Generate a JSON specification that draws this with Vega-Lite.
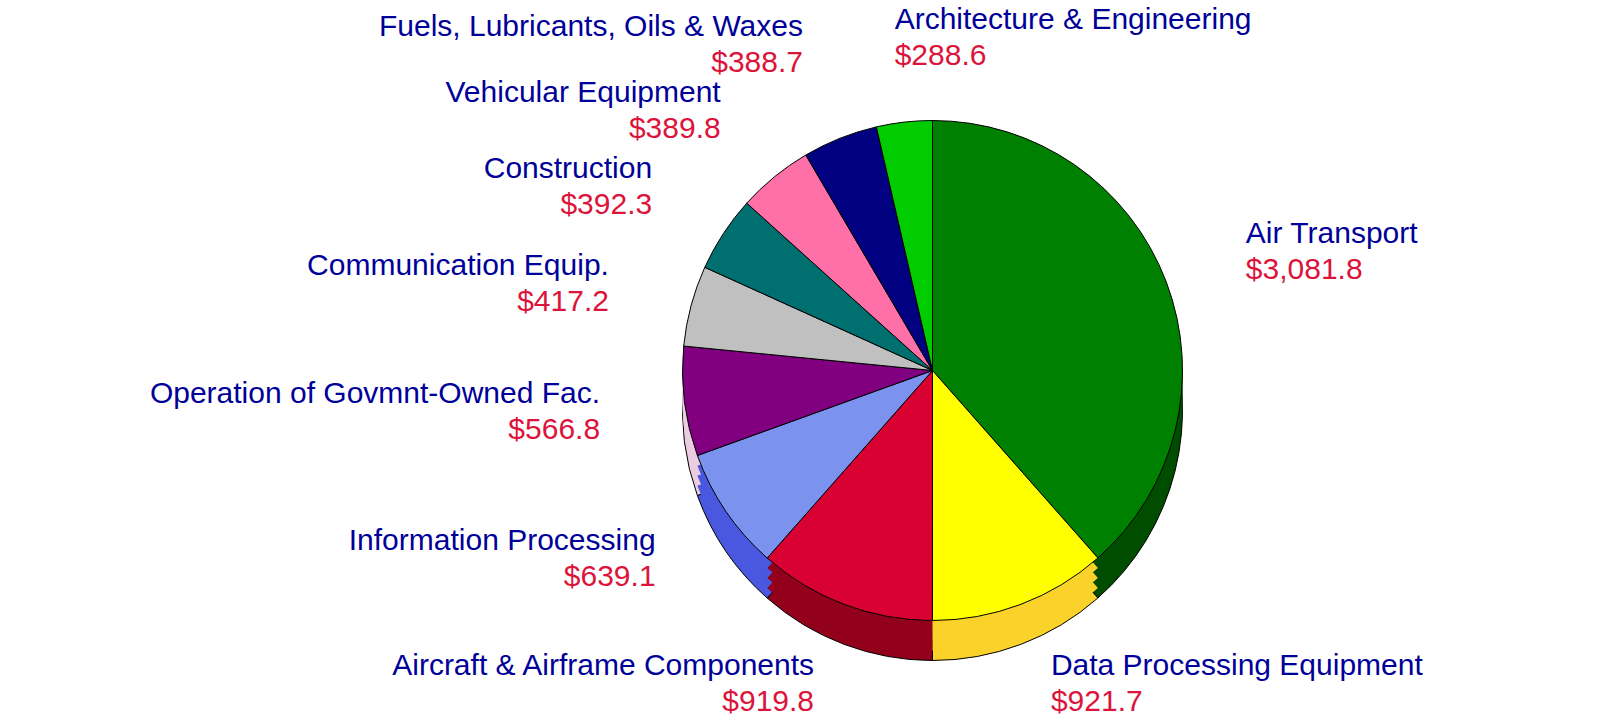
{
  "$schema": "https://vega.github.io/schema/vega-lite/v6.json",
  "width": 1365,
  "height": 709,
  "autosize": "none",
  "padding": {"left": 250, "right": 0, "top": 16, "bottom": 0},
  "background": "white",
  "config": {"view": {"stroke": null}, "text": {"font": "Liberation Sans", "fontSize": 30}},
  "data": {
    "values": [
      {"category": "Air Transport", "value": 3081.8},
      {"category": "Data Processing Equipment", "value": 921.7},
      {"category": "Aircraft & Airframe Components", "value": 919.8},
      {"category": "Information Processing", "value": 639.1},
      {"category": "Operation of Govmnt-Owned Fac.", "value": 566.8},
      {"category": "Communication Equip.", "value": 417.2},
      {"category": "Construction", "value": 392.3},
      {"category": "Vehicular Equipment", "value": 389.8},
      {"category": "Fuels, Lubricants, Oils & Waxes", "value": 388.7},
      {"category": "Architecture & Engineering", "value": 288.6}
    ]
  },
  "encoding": {
    "theta": {"field": "value", "type": "quantitative", "stack": true},
    "order": {"field": "value", "type": "quantitative", "sort": "descending"}
  },
  "layer": [
    {
      "mark": {"type": "arc", "radius": 250, "yOffset": 40, "stroke": "black", "strokeWidth": 1},
      "encoding": {
        "fill": {
          "field": "category", "type": "nominal", "legend": null,
          "scale": {
            "domain": ["Air Transport", "Data Processing Equipment", "Aircraft & Airframe Components", "Information Processing", "Operation of Govmnt-Owned Fac.", "Communication Equip.", "Construction", "Vehicular Equipment", "Fuels, Lubricants, Oils & Waxes", "Architecture & Engineering"],
            "range": ["#004d00", "#fbd22a", "#93001c", "#4a58e0", "#eccce0", "#909090", "#004848", "#c05080", "#000050", "#009900"]
          }
        }
      }
    },
    {
      "mark": {"type": "arc", "radius": 250, "yOffset": 30},
      "encoding": {
        "fill": {"field": "category", "type": "nominal", "legend": null}
      }
    },
    {
      "mark": {"type": "arc", "radius": 250, "yOffset": 20},
      "encoding": {
        "fill": {"field": "category", "type": "nominal", "legend": null}
      }
    },
    {
      "mark": {"type": "arc", "radius": 250, "yOffset": 10},
      "encoding": {
        "fill": {"field": "category", "type": "nominal", "legend": null}
      }
    },
    {
      "mark": {"type": "arc", "radius": 250, "stroke": "black", "strokeWidth": 1},
      "encoding": {
        "color": {
          "field": "category", "type": "nominal", "legend": null,
          "scale": {
            "domain": ["Air Transport", "Data Processing Equipment", "Aircraft & Airframe Components", "Information Processing", "Operation of Govmnt-Owned Fac.", "Communication Equip.", "Construction", "Vehicular Equipment", "Fuels, Lubricants, Oils & Waxes", "Architecture & Engineering"],
            "range": ["#008000", "#ffff00", "#d90032", "#7b93ee", "#800080", "#c0c0c0", "#006f6f", "#ff70a8", "#000080", "#00cc00"]
          }
        }
      }
    },
    {
      "mark": {"type": "text", "radius": 335, "align": "left", "baseline": "middle", "dy": -18, "color": "#000099"},
      "encoding": {
        "text": {
          "condition": {"test": "indexof(['Air Transport','Data Processing Equipment','Architecture & Engineering'], datum.category) >= 0", "field": "category", "type": "nominal"},
          "value": ""
        }
      }
    },
    {
      "mark": {"type": "text", "radius": 335, "align": "right", "baseline": "middle", "dy": -18, "color": "#000099"},
      "encoding": {
        "text": {
          "condition": {"test": "indexof(['Air Transport','Data Processing Equipment','Architecture & Engineering','Fuels, Lubricants, Oils & Waxes'], datum.category) < 0", "field": "category", "type": "nominal"},
          "value": ""
        }
      }
    },
    {
      "mark": {"type": "text", "radius": 350, "align": "right", "baseline": "middle", "dy": -18, "color": "#000099"},
      "encoding": {
        "text": {
          "condition": {"test": "datum.category == 'Fuels, Lubricants, Oils & Waxes'", "field": "category", "type": "nominal"},
          "value": ""
        }
      }
    },
    {
      "mark": {"type": "text", "radius": 335, "align": "left", "baseline": "middle", "dy": 18, "color": "#dc143c"},
      "encoding": {
        "text": {
          "condition": {"test": "indexof(['Air Transport','Data Processing Equipment','Architecture & Engineering'], datum.category) >= 0", "field": "value", "type": "quantitative", "format": "$,.1f"},
          "value": ""
        }
      }
    },
    {
      "mark": {"type": "text", "radius": 335, "align": "right", "baseline": "middle", "dy": 18, "color": "#dc143c"},
      "encoding": {
        "text": {
          "condition": {"test": "indexof(['Air Transport','Data Processing Equipment','Architecture & Engineering','Fuels, Lubricants, Oils & Waxes'], datum.category) < 0", "field": "value", "type": "quantitative", "format": "$,.1f"},
          "value": ""
        }
      }
    },
    {
      "mark": {"type": "text", "radius": 350, "align": "right", "baseline": "middle", "dy": 18, "color": "#dc143c"},
      "encoding": {
        "text": {
          "condition": {"test": "datum.category == 'Fuels, Lubricants, Oils & Waxes'", "field": "value", "type": "quantitative", "format": "$,.1f"},
          "value": ""
        }
      }
    }
  ]
}
